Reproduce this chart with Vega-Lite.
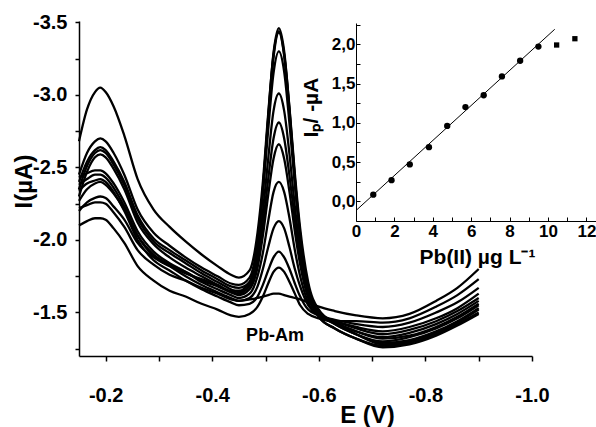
{
"$schema": "https://vega.github.io/schema/vega-lite/v6.json",
"width": 453, "height": 335,
"autosize": "none",
"padding": {"left": 79, "top": 21, "right": 64, "bottom": 71},
"background": "white",
"config": {
  "view": {"stroke": null},
  "axis": {"grid": false, "domainColor": "black", "tickColor": "black", "labelColor": "black", "titleColor": "black",
           "labelFont": "Liberation Sans", "titleFont": "Liberation Sans", "labelFontWeight": "bold", "titleFontWeight": "bold",
           "labelFlush": false, "labelOverlap": false, "labelBound": false}
},
"datasets": {
"curves": [
{"c":0,"E":-0.15,"I":-2.22},{"c":0,"E":-0.165,"I":-2.24},{"c":0,"E":-0.18,"I":-2.26},{"c":0,"E":-0.19,"I":-2.26},{"c":0,"E":-0.2,"I":-2.25},{"c":0,"E":-0.215,"I":-2.19},{"c":0,"E":-0.235,"I":-2.09},{"c":0,"E":-0.26,"I":-1.93},{"c":0,"E":-0.29,"I":-1.83},{"c":0,"E":-0.32,"I":-1.76},{"c":0,"E":-0.35,"I":-1.72},{"c":0,"E":-0.38,"I":-1.67},{"c":0,"E":-0.41,"I":-1.63},{"c":0,"E":-0.435,"I":-1.59},{"c":0,"E":-0.45,"I":-1.58},{"c":0,"E":-0.47,"I":-1.59},{"c":0,"E":-0.485,"I":-1.60},{"c":0,"E":-0.495,"I":-1.61},{"c":0,"E":-0.505,"I":-1.62},{"c":0,"E":-0.515,"I":-1.63},{"c":0,"E":-0.525,"I":-1.63},{"c":0,"E":-0.535,"I":-1.62},{"c":0,"E":-0.545,"I":-1.61},{"c":0,"E":-0.555,"I":-1.60},{"c":0,"E":-0.565,"I":-1.59},{"c":0,"E":-0.58,"I":-1.57},{"c":0,"E":-0.6,"I":-1.54},{"c":0,"E":-0.63,"I":-1.51},{"c":0,"E":-0.67,"I":-1.48},{"c":0,"E":-0.72,"I":-1.46},{"c":0,"E":-0.77,"I":-1.49},{"c":0,"E":-0.82,"I":-1.58},{"c":0,"E":-0.86,"I":-1.67},{"c":0,"E":-0.9,"I":-1.80},
{"c":1,"E":-0.15,"I":-2.10},{"c":1,"E":-0.165,"I":-2.13},{"c":1,"E":-0.18,"I":-2.15},{"c":1,"E":-0.19,"I":-2.15},{"c":1,"E":-0.2,"I":-2.14},{"c":1,"E":-0.215,"I":-2.08},{"c":1,"E":-0.235,"I":-1.98},{"c":1,"E":-0.26,"I":-1.82},{"c":1,"E":-0.29,"I":-1.72},{"c":1,"E":-0.32,"I":-1.65},{"c":1,"E":-0.35,"I":-1.61},{"c":1,"E":-0.38,"I":-1.56},{"c":1,"E":-0.41,"I":-1.52},{"c":1,"E":-0.435,"I":-1.48},{"c":1,"E":-0.45,"I":-1.47},{"c":1,"E":-0.47,"I":-1.49},{"c":1,"E":-0.485,"I":-1.54},{"c":1,"E":-0.495,"I":-1.61},{"c":1,"E":-0.505,"I":-1.70},{"c":1,"E":-0.515,"I":-1.78},{"c":1,"E":-0.525,"I":-1.81},{"c":1,"E":-0.535,"I":-1.78},{"c":1,"E":-0.545,"I":-1.71},{"c":1,"E":-0.555,"I":-1.63},{"c":1,"E":-0.565,"I":-1.55},{"c":1,"E":-0.58,"I":-1.49},{"c":1,"E":-0.6,"I":-1.46},{"c":1,"E":-0.63,"I":-1.44},{"c":1,"E":-0.67,"I":-1.44},{"c":1,"E":-0.72,"I":-1.43},{"c":1,"E":-0.77,"I":-1.46},{"c":1,"E":-0.82,"I":-1.54},{"c":1,"E":-0.86,"I":-1.62},{"c":1,"E":-0.9,"I":-1.73},
{"c":2,"E":-0.15,"I":-2.34},{"c":2,"E":-0.165,"I":-2.39},{"c":2,"E":-0.18,"I":-2.41},{"c":2,"E":-0.19,"I":-2.42},{"c":2,"E":-0.2,"I":-2.40},{"c":2,"E":-0.215,"I":-2.33},{"c":2,"E":-0.235,"I":-2.20},{"c":2,"E":-0.26,"I":-2.00},{"c":2,"E":-0.29,"I":-1.86},{"c":2,"E":-0.32,"I":-1.79},{"c":2,"E":-0.35,"I":-1.72},{"c":2,"E":-0.38,"I":-1.66},{"c":2,"E":-0.41,"I":-1.61},{"c":2,"E":-0.435,"I":-1.57},{"c":2,"E":-0.45,"I":-1.55},{"c":2,"E":-0.47,"I":-1.56},{"c":2,"E":-0.485,"I":-1.61},{"c":2,"E":-0.495,"I":-1.69},{"c":2,"E":-0.505,"I":-1.79},{"c":2,"E":-0.515,"I":-1.88},{"c":2,"E":-0.525,"I":-1.92},{"c":2,"E":-0.535,"I":-1.88},{"c":2,"E":-0.545,"I":-1.80},{"c":2,"E":-0.555,"I":-1.70},{"c":2,"E":-0.565,"I":-1.61},{"c":2,"E":-0.58,"I":-1.52},{"c":2,"E":-0.6,"I":-1.48},{"c":2,"E":-0.63,"I":-1.45},{"c":2,"E":-0.67,"I":-1.42},{"c":2,"E":-0.72,"I":-1.40},{"c":2,"E":-0.77,"I":-1.43},{"c":2,"E":-0.82,"I":-1.50},{"c":2,"E":-0.86,"I":-1.57},{"c":2,"E":-0.9,"I":-1.67},
{"c":3,"E":-0.15,"I":-2.38},{"c":3,"E":-0.165,"I":-2.42},{"c":3,"E":-0.18,"I":-2.45},{"c":3,"E":-0.19,"I":-2.45},{"c":3,"E":-0.2,"I":-2.43},{"c":3,"E":-0.215,"I":-2.36},{"c":3,"E":-0.235,"I":-2.23},{"c":3,"E":-0.26,"I":-2.03},{"c":3,"E":-0.29,"I":-1.89},{"c":3,"E":-0.32,"I":-1.82},{"c":3,"E":-0.35,"I":-1.75},{"c":3,"E":-0.38,"I":-1.69},{"c":3,"E":-0.41,"I":-1.64},{"c":3,"E":-0.435,"I":-1.60},{"c":3,"E":-0.45,"I":-1.58},{"c":3,"E":-0.47,"I":-1.60},{"c":3,"E":-0.485,"I":-1.68},{"c":3,"E":-0.495,"I":-1.80},{"c":3,"E":-0.505,"I":-1.95},{"c":3,"E":-0.515,"I":-2.08},{"c":3,"E":-0.525,"I":-2.13},{"c":3,"E":-0.535,"I":-2.08},{"c":3,"E":-0.545,"I":-1.95},{"c":3,"E":-0.555,"I":-1.80},{"c":3,"E":-0.565,"I":-1.68},{"c":3,"E":-0.58,"I":-1.55},{"c":3,"E":-0.6,"I":-1.48},{"c":3,"E":-0.63,"I":-1.44},{"c":3,"E":-0.67,"I":-1.40},{"c":3,"E":-0.72,"I":-1.37},{"c":3,"E":-0.77,"I":-1.40},{"c":3,"E":-0.82,"I":-1.46},{"c":3,"E":-0.86,"I":-1.53},{"c":3,"E":-0.9,"I":-1.63},
{"c":4,"E":-0.15,"I":-2.43},{"c":4,"E":-0.165,"I":-2.46},{"c":4,"E":-0.18,"I":-2.48},{"c":4,"E":-0.19,"I":-2.48},{"c":4,"E":-0.2,"I":-2.46},{"c":4,"E":-0.215,"I":-2.39},{"c":4,"E":-0.235,"I":-2.26},{"c":4,"E":-0.26,"I":-2.06},{"c":4,"E":-0.29,"I":-1.92},{"c":4,"E":-0.32,"I":-1.84},{"c":4,"E":-0.35,"I":-1.78},{"c":4,"E":-0.38,"I":-1.71},{"c":4,"E":-0.41,"I":-1.66},{"c":4,"E":-0.435,"I":-1.62},{"c":4,"E":-0.45,"I":-1.60},{"c":4,"E":-0.47,"I":-1.63},{"c":4,"E":-0.485,"I":-1.75},{"c":4,"E":-0.495,"I":-1.91},{"c":4,"E":-0.505,"I":-2.13},{"c":4,"E":-0.515,"I":-2.33},{"c":4,"E":-0.525,"I":-2.40},{"c":4,"E":-0.535,"I":-2.33},{"c":4,"E":-0.545,"I":-2.15},{"c":4,"E":-0.555,"I":-1.93},{"c":4,"E":-0.565,"I":-1.75},{"c":4,"E":-0.58,"I":-1.57},{"c":4,"E":-0.6,"I":-1.48},{"c":4,"E":-0.63,"I":-1.44},{"c":4,"E":-0.67,"I":-1.39},{"c":4,"E":-0.72,"I":-1.35},{"c":4,"E":-0.77,"I":-1.38},{"c":4,"E":-0.82,"I":-1.44},{"c":4,"E":-0.86,"I":-1.51},{"c":4,"E":-0.9,"I":-1.60},
{"c":5,"E":-0.15,"I":-2.30},{"c":5,"E":-0.165,"I":-2.47},{"c":5,"E":-0.18,"I":-2.57},{"c":5,"E":-0.19,"I":-2.59},{"c":5,"E":-0.2,"I":-2.57},{"c":5,"E":-0.215,"I":-2.49},{"c":5,"E":-0.235,"I":-2.35},{"c":5,"E":-0.26,"I":-2.12},{"c":5,"E":-0.29,"I":-1.97},{"c":5,"E":-0.32,"I":-1.88},{"c":5,"E":-0.35,"I":-1.81},{"c":5,"E":-0.38,"I":-1.75},{"c":5,"E":-0.41,"I":-1.69},{"c":5,"E":-0.435,"I":-1.64},{"c":5,"E":-0.45,"I":-1.62},{"c":5,"E":-0.47,"I":-1.66},{"c":5,"E":-0.485,"I":-1.81},{"c":5,"E":-0.495,"I":-2.03},{"c":5,"E":-0.505,"I":-2.31},{"c":5,"E":-0.515,"I":-2.56},{"c":5,"E":-0.525,"I":-2.66},{"c":5,"E":-0.535,"I":-2.56},{"c":5,"E":-0.545,"I":-2.33},{"c":5,"E":-0.555,"I":-2.06},{"c":5,"E":-0.565,"I":-1.83},{"c":5,"E":-0.58,"I":-1.60},{"c":5,"E":-0.6,"I":-1.49},{"c":5,"E":-0.63,"I":-1.43},{"c":5,"E":-0.67,"I":-1.37},{"c":5,"E":-0.72,"I":-1.33},{"c":5,"E":-0.77,"I":-1.36},{"c":5,"E":-0.82,"I":-1.42},{"c":5,"E":-0.86,"I":-1.49},{"c":5,"E":-0.9,"I":-1.58},
{"c":6,"E":-0.15,"I":-2.35},{"c":6,"E":-0.165,"I":-2.51},{"c":6,"E":-0.18,"I":-2.60},{"c":6,"E":-0.19,"I":-2.62},{"c":6,"E":-0.2,"I":-2.60},{"c":6,"E":-0.215,"I":-2.52},{"c":6,"E":-0.235,"I":-2.38},{"c":6,"E":-0.26,"I":-2.15},{"c":6,"E":-0.29,"I":-1.99},{"c":6,"E":-0.32,"I":-1.91},{"c":6,"E":-0.35,"I":-1.84},{"c":6,"E":-0.38,"I":-1.77},{"c":6,"E":-0.41,"I":-1.71},{"c":6,"E":-0.435,"I":-1.66},{"c":6,"E":-0.45,"I":-1.64},{"c":6,"E":-0.47,"I":-1.68},{"c":6,"E":-0.485,"I":-1.85},{"c":6,"E":-0.495,"I":-2.10},{"c":6,"E":-0.505,"I":-2.42},{"c":6,"E":-0.515,"I":-2.70},{"c":6,"E":-0.525,"I":-2.81},{"c":6,"E":-0.535,"I":-2.70},{"c":6,"E":-0.545,"I":-2.44},{"c":6,"E":-0.555,"I":-2.14},{"c":6,"E":-0.565,"I":-1.88},{"c":6,"E":-0.58,"I":-1.62},{"c":6,"E":-0.6,"I":-1.49},{"c":6,"E":-0.63,"I":-1.43},{"c":6,"E":-0.67,"I":-1.37},{"c":6,"E":-0.72,"I":-1.32},{"c":6,"E":-0.77,"I":-1.34},{"c":6,"E":-0.82,"I":-1.40},{"c":6,"E":-0.86,"I":-1.47},{"c":6,"E":-0.9,"I":-1.56},
{"c":7,"E":-0.15,"I":-2.40},{"c":7,"E":-0.165,"I":-2.54},{"c":7,"E":-0.18,"I":-2.62},{"c":7,"E":-0.19,"I":-2.64},{"c":7,"E":-0.2,"I":-2.62},{"c":7,"E":-0.215,"I":-2.54},{"c":7,"E":-0.235,"I":-2.40},{"c":7,"E":-0.26,"I":-2.17},{"c":7,"E":-0.29,"I":-2.01},{"c":7,"E":-0.32,"I":-1.93},{"c":7,"E":-0.35,"I":-1.86},{"c":7,"E":-0.38,"I":-1.79},{"c":7,"E":-0.41,"I":-1.73},{"c":7,"E":-0.435,"I":-1.68},{"c":7,"E":-0.45,"I":-1.67},{"c":7,"E":-0.47,"I":-1.71},{"c":7,"E":-0.485,"I":-1.91},{"c":7,"E":-0.495,"I":-2.19},{"c":7,"E":-0.505,"I":-2.56},{"c":7,"E":-0.515,"I":-2.89},{"c":7,"E":-0.525,"I":-3.01},{"c":7,"E":-0.535,"I":-2.89},{"c":7,"E":-0.545,"I":-2.59},{"c":7,"E":-0.555,"I":-2.23},{"c":7,"E":-0.565,"I":-1.93},{"c":7,"E":-0.58,"I":-1.64},{"c":7,"E":-0.6,"I":-1.50},{"c":7,"E":-0.63,"I":-1.42},{"c":7,"E":-0.67,"I":-1.35},{"c":7,"E":-0.72,"I":-1.30},{"c":7,"E":-0.77,"I":-1.33},{"c":7,"E":-0.82,"I":-1.39},{"c":7,"E":-0.86,"I":-1.46},{"c":7,"E":-0.9,"I":-1.55},
{"c":8,"E":-0.15,"I":-2.45},{"c":8,"E":-0.165,"I":-2.60},{"c":8,"E":-0.18,"I":-2.68},{"c":8,"E":-0.19,"I":-2.70},{"c":8,"E":-0.2,"I":-2.68},{"c":8,"E":-0.215,"I":-2.60},{"c":8,"E":-0.235,"I":-2.45},{"c":8,"E":-0.26,"I":-2.21},{"c":8,"E":-0.29,"I":-2.05},{"c":8,"E":-0.32,"I":-1.96},{"c":8,"E":-0.35,"I":-1.88},{"c":8,"E":-0.38,"I":-1.81},{"c":8,"E":-0.41,"I":-1.75},{"c":8,"E":-0.435,"I":-1.70},{"c":8,"E":-0.45,"I":-1.69},{"c":8,"E":-0.47,"I":-1.74},{"c":8,"E":-0.485,"I":-1.98},{"c":8,"E":-0.495,"I":-2.32},{"c":8,"E":-0.505,"I":-2.76},{"c":8,"E":-0.515,"I":-3.15},{"c":8,"E":-0.525,"I":-3.30},{"c":8,"E":-0.535,"I":-3.16},{"c":8,"E":-0.545,"I":-2.80},{"c":8,"E":-0.555,"I":-2.38},{"c":8,"E":-0.565,"I":-2.02},{"c":8,"E":-0.58,"I":-1.68},{"c":8,"E":-0.6,"I":-1.50},{"c":8,"E":-0.63,"I":-1.42},{"c":8,"E":-0.67,"I":-1.35},{"c":8,"E":-0.72,"I":-1.29},{"c":8,"E":-0.77,"I":-1.31},{"c":8,"E":-0.82,"I":-1.37},{"c":8,"E":-0.86,"I":-1.44},{"c":8,"E":-0.9,"I":-1.53},
{"c":9,"E":-0.15,"I":-2.68},{"c":9,"E":-0.165,"I":-2.90},{"c":9,"E":-0.18,"I":-3.02},{"c":9,"E":-0.19,"I":-3.05},{"c":9,"E":-0.2,"I":-3.02},{"c":9,"E":-0.215,"I":-2.92},{"c":9,"E":-0.235,"I":-2.72},{"c":9,"E":-0.26,"I":-2.42},{"c":9,"E":-0.29,"I":-2.21},{"c":9,"E":-0.32,"I":-2.09},{"c":9,"E":-0.35,"I":-1.99},{"c":9,"E":-0.38,"I":-1.90},{"c":9,"E":-0.41,"I":-1.82},{"c":9,"E":-0.435,"I":-1.76},{"c":9,"E":-0.45,"I":-1.74},{"c":9,"E":-0.47,"I":-1.79},{"c":9,"E":-0.485,"I":-2.05},{"c":9,"E":-0.495,"I":-2.40},{"c":9,"E":-0.505,"I":-2.87},{"c":9,"E":-0.515,"I":-3.28},{"c":9,"E":-0.525,"I":-3.44},{"c":9,"E":-0.535,"I":-3.28},{"c":9,"E":-0.545,"I":-2.91},{"c":9,"E":-0.555,"I":-2.46},{"c":9,"E":-0.565,"I":-2.08},{"c":9,"E":-0.58,"I":-1.71},{"c":9,"E":-0.6,"I":-1.52},{"c":9,"E":-0.63,"I":-1.43},{"c":9,"E":-0.67,"I":-1.35},{"c":9,"E":-0.72,"I":-1.28},{"c":9,"E":-0.77,"I":-1.30},{"c":9,"E":-0.82,"I":-1.36},{"c":9,"E":-0.86,"I":-1.43},{"c":9,"E":-0.9,"I":-1.52},
{"c":10,"E":-0.15,"I":-2.27},{"c":10,"E":-0.165,"I":-2.35},{"c":10,"E":-0.18,"I":-2.39},{"c":10,"E":-0.19,"I":-2.40},{"c":10,"E":-0.2,"I":-2.38},{"c":10,"E":-0.215,"I":-2.32},{"c":10,"E":-0.235,"I":-2.21},{"c":10,"E":-0.26,"I":-2.03},{"c":10,"E":-0.29,"I":-1.90},{"c":10,"E":-0.32,"I":-1.83},{"c":10,"E":-0.35,"I":-1.78},{"c":10,"E":-0.38,"I":-1.72},{"c":10,"E":-0.41,"I":-1.68},{"c":10,"E":-0.435,"I":-1.64},{"c":10,"E":-0.45,"I":-1.63},{"c":10,"E":-0.47,"I":-1.69},{"c":10,"E":-0.485,"I":-1.97},{"c":10,"E":-0.495,"I":-2.35},{"c":10,"E":-0.505,"I":-2.85},{"c":10,"E":-0.515,"I":-3.29},{"c":10,"E":-0.525,"I":-3.46},{"c":10,"E":-0.535,"I":-3.30},{"c":10,"E":-0.545,"I":-2.90},{"c":10,"E":-0.555,"I":-2.43},{"c":10,"E":-0.565,"I":-2.04},{"c":10,"E":-0.58,"I":-1.66},{"c":10,"E":-0.6,"I":-1.47},{"c":10,"E":-0.63,"I":-1.39},{"c":10,"E":-0.67,"I":-1.32},{"c":10,"E":-0.72,"I":-1.27},{"c":10,"E":-0.77,"I":-1.29},{"c":10,"E":-0.82,"I":-1.35},{"c":10,"E":-0.86,"I":-1.42},{"c":10,"E":-0.9,"I":-1.50},
{"c":11,"E":-0.15,"I":-2.20},{"c":11,"E":-0.165,"I":-2.26},{"c":11,"E":-0.18,"I":-2.29},{"c":11,"E":-0.19,"I":-2.30},{"c":11,"E":-0.2,"I":-2.29},{"c":11,"E":-0.215,"I":-2.23},{"c":11,"E":-0.235,"I":-2.14},{"c":11,"E":-0.26,"I":-1.98},{"c":11,"E":-0.29,"I":-1.88},{"c":11,"E":-0.32,"I":-1.82},{"c":11,"E":-0.35,"I":-1.77},{"c":11,"E":-0.38,"I":-1.73},{"c":11,"E":-0.41,"I":-1.69},{"c":11,"E":-0.435,"I":-1.65},{"c":11,"E":-0.45,"I":-1.65},{"c":11,"E":-0.47,"I":-1.71},{"c":11,"E":-0.485,"I":-1.97},{"c":11,"E":-0.495,"I":-2.35},{"c":11,"E":-0.505,"I":-2.83},{"c":11,"E":-0.515,"I":-3.26},{"c":11,"E":-0.525,"I":-3.43},{"c":11,"E":-0.535,"I":-3.27},{"c":11,"E":-0.545,"I":-2.88},{"c":11,"E":-0.555,"I":-2.42},{"c":11,"E":-0.565,"I":-2.03},{"c":11,"E":-0.58,"I":-1.66},{"c":11,"E":-0.6,"I":-1.47},{"c":11,"E":-0.63,"I":-1.39},{"c":11,"E":-0.67,"I":-1.32},{"c":11,"E":-0.72,"I":-1.26},{"c":11,"E":-0.77,"I":-1.28},{"c":11,"E":-0.82,"I":-1.34},{"c":11,"E":-0.86,"I":-1.41},{"c":11,"E":-0.9,"I":-1.49}
],
"label": [{"E": -0.518, "I": -1.34, "t": "Pb-Am"}],
"calib": [
{"conc":0.9,"ip":0.085,"m":"circle"},{"conc":1.85,"ip":0.27,"m":"circle"},{"conc":2.8,"ip":0.47,"m":"circle"},{"conc":3.8,"ip":0.69,"m":"circle"},{"conc":4.75,"ip":0.96,"m":"circle"},{"conc":5.7,"ip":1.20,"m":"circle"},{"conc":6.65,"ip":1.35,"m":"circle"},{"conc":7.6,"ip":1.59,"m":"circle"},{"conc":8.55,"ip":1.79,"m":"circle"},{"conc":9.5,"ip":1.97,"m":"circle"},{"conc":10.45,"ip":1.99,"m":"square"},{"conc":11.4,"ip":2.07,"m":"square"}
],
"fit": [{"conc":0.03,"ip":-0.11},{"conc":10.35,"ip":2.19}]
},
"layer": [
 {
  "encoding": {
   "x": {"field": "E", "type": "quantitative",
         "scale": {"domain": [-1.0, -0.15], "reverse": true, "nice": false, "zero": false},
         "axis": {"orient": "bottom", "values": [-0.2,-0.3,-0.4,-0.5,-0.6,-0.7,-0.8,-0.9,-1.0],
                  "labelExpr": "round(abs(datum.value)*10) % 2 == 0 ? '-' + format(abs(datum.value), '.1f') : ''",
                  "tickSize": 5, "tickWidth": 1.5, "domainWidth": 1.5, "labelPadding": 24, "labelFontSize": 20,
                  "title": "E (V)", "titleFontSize": 24, "titleX": 288, "titleY": 66, "titleAlign": "center", "titleBaseline": "alphabetic"}},
   "y": {"field": "I", "type": "quantitative",
         "scale": {"domain": [-3.51, -1.2], "reverse": true, "nice": false, "zero": false},
         "axis": {"orient": "left", "values": [-1.25,-1.5,-1.75,-2.0,-2.25,-2.5,-2.75,-3.0,-3.25,-3.5],
                  "labelExpr": "round(abs(datum.value)*100) % 50 == 0 ? '-' + format(abs(datum.value), '.1f') : ''",
                  "tickSize": 4, "tickWidth": 1.5, "domainWidth": 1.5, "labelPadding": 8, "labelFontSize": 20,
                  "title": "I(µA)", "titleFontSize": 24, "titleAngle": -90, "titleX": -55, "titleY": 160, "titleAlign": "center", "titleBaseline": "middle"}}
  },
  "layer": [
   {"data": {"name": "curves"}, "mark": {"type": "line", "color": "black", "strokeWidth": 2.3, "interpolate": "monotone"},
    "encoding": {"detail": {"field": "c", "type": "nominal"}}},
   {"data": {"name": "label"}, "mark": {"type": "text", "font": "Liberation Sans", "fontWeight": "bold", "fontSize": 18, "color": "black", "align": "center", "baseline": "middle"},
    "encoding": {"text": {"field": "t"}}}
  ]
 },
 {
  "encoding": {
   "x": {"field": "conc", "type": "quantitative",
         "scale": {"domain": [0, 12.5], "range": [277, 517], "nice": false, "zero": false},
         "axis": {"orient": "bottom", "offset": -135, "values": [0,1,2,3,4,5,6,7,8,9,10,11,12],
                  "labelExpr": "datum.value % 2 == 0 ? format(datum.value, 'd') : ''",
                  "tickSize": -4, "labelPadding": 6, "labelFontSize": 17,
                  "title": "Pb(II) µg L⁻¹", "titleFontSize": 21, "titleX": 398, "titleY": 42, "titleAlign": "center", "titleBaseline": "alphabetic"}},
   "y": {"field": "ip", "type": "quantitative",
         "scale": {"domain": [-0.25, 2.27], "range": [200, 2], "nice": false, "zero": false},
         "axis": {"orient": "left", "offset": -277, "values": [0,0.25,0.5,0.75,1.0,1.25,1.5,1.75,2.0,2.25],
                  "labelExpr": "round(datum.value*100) % 50 == 0 ? replace(format(datum.value, '.1f'), '.', ',') : ''",
                  "tickSize": -4, "labelPadding": 5, "labelFontSize": 17,
                  "title": "Iₚ/ -µA", "titleFontSize": 21, "titleAngle": -90, "titleX": -45, "titleY": 86, "titleAlign": "center", "titleBaseline": "middle"}}
  },
  "layer": [
   {"data": {"name": "fit"}, "mark": {"type": "line", "color": "black", "strokeWidth": 1}},
   {"data": {"name": "calib"}, "mark": {"type": "point", "filled": true, "color": "black", "opacity": 1},
    "encoding": {"shape": {"field": "m", "type": "nominal", "scale": {"domain": ["circle", "square"], "range": ["circle", "square"]}, "legend": null},
                 "size": {"field": "m", "type": "nominal", "scale": {"domain": ["circle", "square"], "range": [40, 28]}, "legend": null}}}
  ]
 }
],
"resolve": {"scale": {"x": "independent", "y": "independent"}, "axis": {"x": "independent", "y": "independent"}}
}
